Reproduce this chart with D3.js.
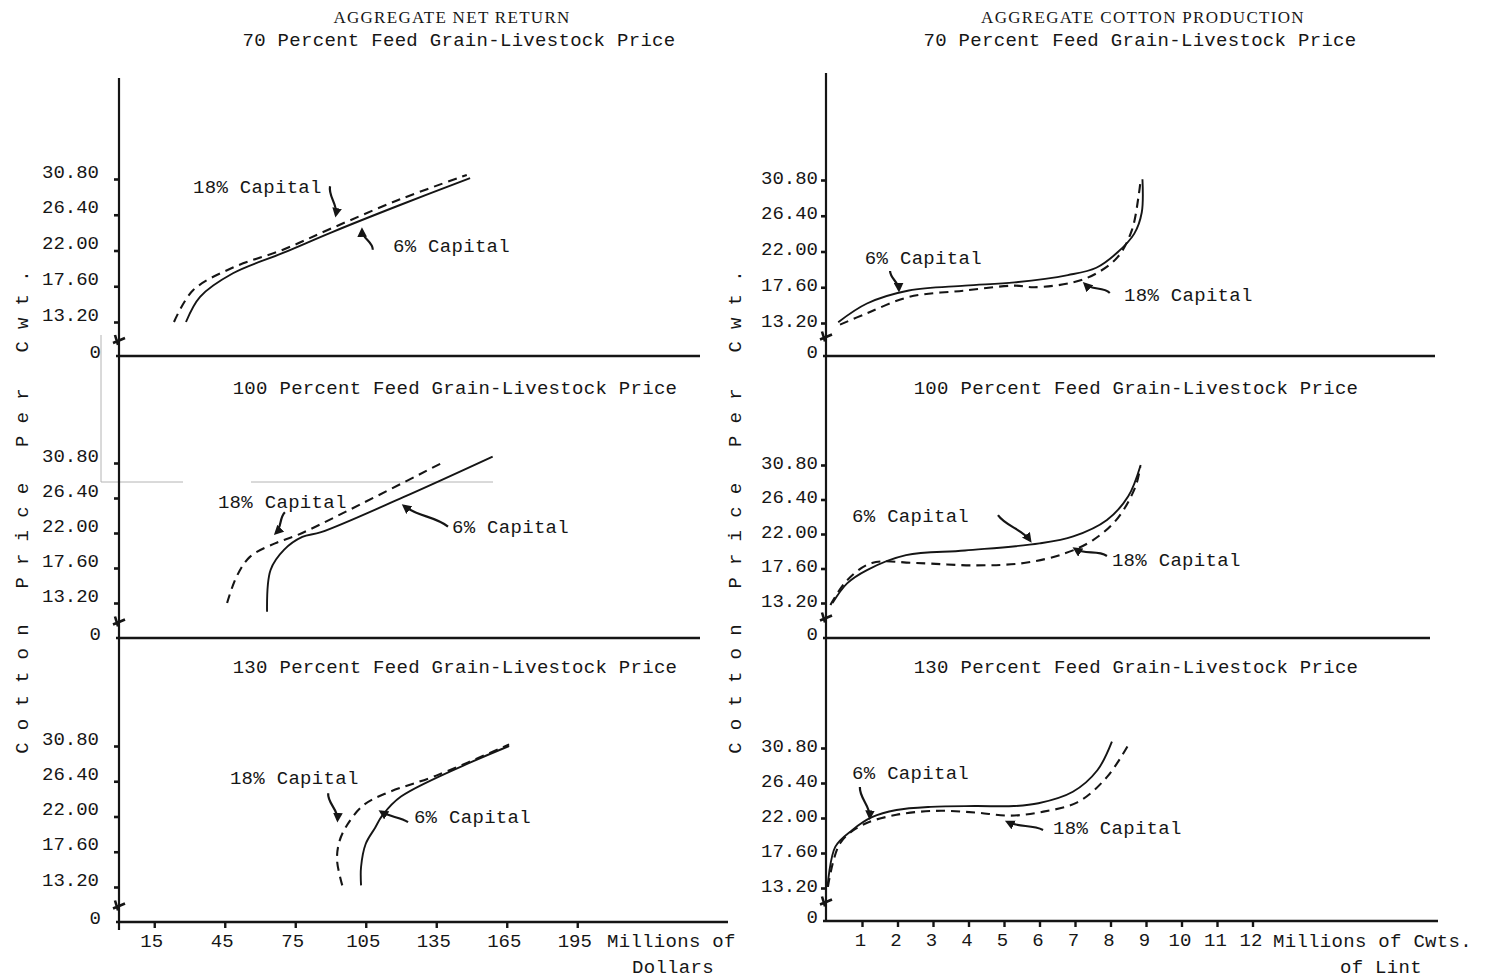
<!DOCTYPE html>
<html><head><meta charset="utf-8">
<script src="https://cdn.jsdelivr.net/npm/d3@7"></script>
<style>
html,body{margin:0;padding:0;background:#fff;}
svg text{font-family:"Liberation Mono","DejaVu Sans Mono",monospace;fill:#161616;}
</style></head>
<body><svg id="c" width="1488" height="979"></svg>
<script>
// ---------------- DATA ----------------
const priceTicks = [13.20, 17.60, 22.00, 26.40, 30.80];
const dollarTicks = [15, 45, 75, 105, 135, 165, 195];
const lintTicks = [1, 2, 3, 4, 5, 6, 7, 8, 9, 10, 11, 12];
const chartTitles = ["AGGREGATE NET RETURN", "AGGREGATE COTTON PRODUCTION"];
const panelTitles = ["70 Percent Feed Grain-Livestock Price", "100 Percent Feed Grain-Livestock Price", "130 Percent Feed Grain-Livestock Price"];
const seriesNames = ["6% Capital", "18% Capital"];
const yAxisTitle = "Cotton Price Per Cwt.";
const xAxisTitles = [["Millions of", "Dollars"], ["Millions of Cwts.", "of Lint"]];

// Aggregate net return: [millions of dollars, cotton price per cwt]
const ret70_6   = [[28.5,13.2],[34.5,16.3],[48.5,19.2],[69.8,21.7],[91,24.3],[119.6,27.6],[149.4,30.9]];
const ret70_18  = [[23.4,13.2],[31.5,17.1],[48.5,19.9],[69.8,22.1],[91,24.8],[119.6,28.3],[148,31.3]];
const ret100_6  = [[63,12.1],[64.5,17.35],[70.3,19.9],[78,21.5],[86,22.1],[121,26.5],[159,31.6]];
const ret100_18 = [[46,13.2],[50,16.5],[55.7,19.0],[66.4,20.7],[76,21.75],[98,24.9],[138,30.9]];
const ret130_6  = [[103,13.4],[103,15.7],[105,18.6],[109,20.6],[112,22.1],[120,24.5],[166,30.8]];
const ret130_18 = [[95,13.4],[92.8,16.5],[93.7,18.8],[97,20.9],[104,23.4],[114.5,25.0],[135,27.1],[166,31.0]];

// Aggregate cotton production: [millions of cwts of lint, cotton price per cwt]
const prod70_6   = [[0.33,13.3],[1.14,15.6],[2.32,17.2],[3.9,17.8],[5.3,18.2],[6.8,19.1],[7.6,20.0],[8.2,21.9],[8.67,24.2],[8.88,26.8],[8.9,30.9]];
const prod70_18  = [[0.38,13.0],[1.14,14.4],[2.32,16.4],[3.9,17.2],[5.3,17.8],[5.85,17.6],[6.95,18.2],[7.6,19.3],[8.2,21.3],[8.6,24.6],[8.8,29.1],[8.85,30.9]];
const prod100_6  = [[0.17,13.2],[0.58,15.7],[1.14,17.4],[2.24,19.3],[3.9,19.9],[6.0,20.8],[6.95,21.7],[7.9,23.8],[8.5,26.8],[8.85,30.8]];
const prod100_18 = [[0.11,12.95],[0.58,16.1],[1.28,18.3],[2.5,18.3],[4.2,18.0],[5.56,18.3],[6.7,19.5],[7.5,21.2],[8.2,24.0],[8.7,28.0],[8.84,30.6]];
const prod130_6  = [[0.03,13.35],[0.25,18.4],[0.73,20.5],[1.28,22.1],[1.97,23.0],[2.94,23.4],[4.18,23.5],[5.28,23.5],[5.97,23.85],[6.94,25.3],[7.63,28.0],[8.04,31.6]];
const prod130_18 = [[0.04,13.35],[0.38,18.8],[1.0,21.1],[1.97,22.4],[3.08,22.9],[4.18,22.7],[5.15,22.3],[6.11,22.8],[7.08,24.0],[7.91,27.2],[8.53,31.4]];

// ---------------- LAYOUT ----------------
const svg = d3.select("#c");
const INK = "#151515";
const FS = 19, LS = 0.3;

const cols = [
  { x: d3.scaleLinear().domain([0, 195]).range([119, 119 + 195 * 2.35]),
    axisX: 119, yTop: 78, yBot: 930, ticks: dollarTicks, tickPad: 15, labDy: -2, zeroEnd: 101,
    titleX: 452, subX: 455, tickShift: -3,
    rows: [{y13:322,y30:179,base:356,xEnd:700},{y13:603,y30:463,base:638,xEnd:700},{y13:887,y30:746,base:922,xEnd:728}],
    series: [[ret70_6, ret70_18],[ret100_6, ret100_18],[ret130_6, ret130_18]],
    yTitleX: 22, xTitle: xAxisTitles[0], xTitlePos: [[607,947,"start"],[632,973,"start"]] },
  { x: d3.scaleLinear().domain([0, 12]).range([826.5, 826.5 + 12 * 35.5]),
    axisX: 826, yTop: 73, yBot: 921, ticks: lintTicks, tickPad: 3, labDy: 3, zeroEnd: 818,
    titleX: 1143, subX: 1136, tickShift: -2,
    rows: [{y13:323,y30:180,base:356,xEnd:1435},{y13:603,y30:465,base:638,xEnd:1430},{y13:888,y30:748,base:921,xEnd:1438}],
    series: [[prod70_6, prod70_18],[prod100_6, prod100_18],[prod130_6, prod130_18]],
    yTitleX: 735, xTitle: xAxisTitles[1], xTitlePos: [[1273,947,"start"],[1340,973,"start"]] }
];

// annotations: [col,row, seriesIdx, textX, textY, arrowFromX, arrowFromY, arrowToX, arrowToY, wiggle]
const notes = [
  [0,0,1, 31.5,29.1, 89.8,29.9, 92.3,26.4, 4],
  [0,0,0, 116.6,21.8, 108,22.1, 103.4,24.5, 4],
  [0,1,1, 42.1,25.1, 70.6,24.6, 66.8,22.0, 3],
  [0,1,0, 141.7,22.0, 140,22.8, 121.3,25.4, 4],
  [0,2,1, 47.2,26.06, 89,24.9, 93,21.6, 4],
  [0,2,0, 125.5,21.2, 123,21.3, 111.5,22.6, 2],
  [1,0,0, 1.08,20.5, 1.79,19.6, 2.04,17.3, 3],
  [1,0,1, 8.38,15.9, 7.98,16.9, 7.28,18.0, 4],
  [1,1,0, 0.72,23.5, 4.83,24.4, 5.73,21.2, 4],
  [1,1,1, 8.04,17.9, 7.9,19.2, 7.0,20.1, 4],
  [1,2,0, 0.72,26.9, 0.94,25.9, 1.22,22.1, 4],
  [1,2,1, 6.38,20.0, 6.1,20.5, 5.1,21.5, 3]
];

svg.append("defs").append("marker")
  .attr("id", "ah").attr("viewBox", "0 0 10 10").attr("refX", 7).attr("refY", 5)
  .attr("markerWidth", 4.4).attr("markerHeight", 4.4).attr("orient", "auto")
  .append("path").attr("d", "M0,0 L10,5 L0,10 z").attr("fill", INK);

function txt(g, s, x, y, anchor, size, ls) {
  return g.append("text").attr("x", x).attr("y", y).attr("text-anchor", anchor || "start")
    .attr("font-size", size || FS).attr("letter-spacing", ls == null ? LS : ls).text(s);
}

function arrowPath(x0, y0, x1, y1, w) {
  const dx = x1 - x0, dy = y1 - y0, L = Math.hypot(dx, dy) || 1;
  const nx = -dy / L, ny = dx / L;
  return `M${x0},${y0} C${x0 + dx * 0.33 + nx * w},${y0 + dy * 0.33 + ny * w} ${x0 + dx * 0.66 - nx * w},${y0 + dy * 0.66 - ny * w} ${x1},${y1}`;
}

// scan artefacts (paste-up edges) in left middle panel
svg.append("path").attr("d", "M101,335 V482 M101,482 H183 M251,482 H493")
  .attr("stroke", "#b4b4b4").attr("stroke-width", 1).attr("fill", "none");

cols.forEach((c, ci) => {
  const g = svg.append("g");
  txt(g, chartTitles[ci], c.titleX, 23, "middle", 17, 1.3)
    .style("font-family", '"Liberation Serif","DejaVu Serif",serif');
  g.append("line").attr("x1", c.axisX).attr("x2", c.axisX).attr("y1", c.yTop).attr("y2", c.yBot)
    .attr("stroke", INK).attr("stroke-width", 2.2);
  g.append("text").attr("transform", `translate(${c.yTitleX + 6},506) rotate(-90)`)
    .attr("text-anchor", "middle").attr("font-size", FS).attr("letter-spacing", 12.2).text(yAxisTitle);

  c.rows.forEach((r, ri) => {
    const y = d3.scaleLinear().domain([13.2, 30.8]).range([r.y13, r.y30]);
    const pg = g.append("g");
    txt(pg, panelTitles[ri], ri === 0 ? c.subX + 4 : c.subX, ri === 0 ? 46 : (ri === 1 ? 394 : 673), "middle");
    pg.append("line").attr("x1", c.axisX - 3).attr("x2", r.xEnd).attr("y1", r.base).attr("y2", r.base)
      .attr("stroke", INK).attr("stroke-width", 2.6);
    const ya = pg.append("g").attr("transform", `translate(${c.axisX},0)`)
      .call(d3.axisLeft(y).tickValues(priceTicks).tickSize(5).tickPadding(c.tickPad).tickFormat(d3.format(".2f")));
    ya.select(".domain").remove();
    ya.selectAll(".tick line").attr("stroke", INK).attr("stroke-width", 2.6);
    ya.selectAll(".tick text").attr("font-size", FS).attr("letter-spacing", 0)
      .attr("font-family", '"Liberation Mono",monospace').attr("fill", INK).attr("dy", c.labDy);
    txt(pg, "0", c.zeroEnd, r.base + 2, "end", FS, 0);
    const bm = (r.y13 + r.base) / 2 + (ci === 1 ? -4 : 0);
    pg.append("path")
      .attr("d", `M${c.axisX - 6},${bm + 4} L${c.axisX + 6},${bm - 1} M${c.axisX - 4},${bm - 4} L${c.axisX - 1},${bm + 6}`)
      .attr("stroke", INK).attr("stroke-width", 2.6).attr("fill", "none");
    if (ri === 2) {
      const xa = pg.append("g").attr("transform", `translate(0,${r.base})`)
        .call(d3.axisBottom(c.x).tickValues(c.ticks).tickSize(6).tickFormat(d3.format("d")));
      xa.select(".domain").remove();
      xa.selectAll(".tick line").attr("stroke", INK).attr("stroke-width", 2.4);
      xa.selectAll(".tick text").attr("font-size", FS).attr("letter-spacing", 0)
        .attr("font-family", '"Liberation Mono",monospace').attr("fill", INK)
        .attr("x", c.tickShift).attr("y", 25).attr("dy", 0);
      c.xTitle.forEach((t, k) => txt(pg, t, c.xTitlePos[k][0], c.xTitlePos[k][1], c.xTitlePos[k][2]));
    }
    const line = d3.line().x(d => c.x(d[0])).y(d => y(d[1])).curve(d3.curveCatmullRom.alpha(0.5));
    const [s6, s18] = c.series[ri];
    pg.append("path").attr("d", line(s18)).attr("fill", "none").attr("stroke", INK)
      .attr("stroke-width", 2.1).attr("stroke-dasharray", "9,6");
    pg.append("path").attr("d", line(s6)).attr("fill", "none").attr("stroke", INK)
      .attr("stroke-width", 1.9);
    notes.filter(n => n[0] === ci && n[1] === ri).forEach(n => {
      txt(pg, seriesNames[n[2]], c.x(n[3]), y(n[4]), "start");
      pg.append("path").attr("d", arrowPath(c.x(n[5]), y(n[6]), c.x(n[7]), y(n[8]), n[9]))
        .attr("fill", "none").attr("stroke", INK).attr("stroke-width", 2.2).attr("marker-end", "url(#ah)");
    });
  });
});
</script>
</body></html>
